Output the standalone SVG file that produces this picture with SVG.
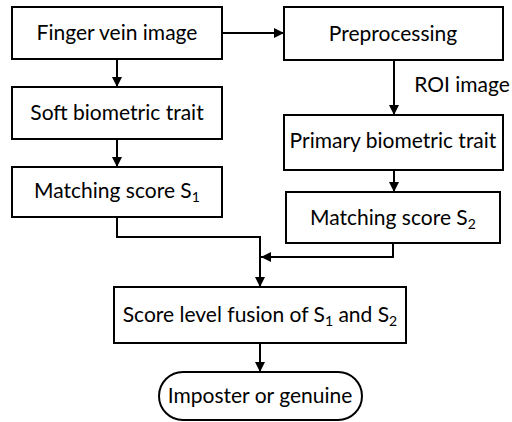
<svg xmlns="http://www.w3.org/2000/svg" width="512" height="422" viewBox="0 0 512 422">
<defs>
<style>
.box{fill:#fff;stroke:#000;stroke-width:2}
.t{font-family:Lato,"Liberation Sans",sans-serif;font-size:21px;fill:#000;text-anchor:middle}
.sub{font-size:14px}
.ln{fill:none;stroke:#000;stroke-width:2}
</style>
<marker id="ah2" viewBox="0 0 10 10" refX="10" refY="5" markerWidth="10" markerHeight="10" orient="auto" markerUnits="userSpaceOnUse">
<path d="M0,0 L10,5 L0,10 z" fill="#000"/>
</marker>
</defs>
<g id="connectors">
<path class="ln" d="M117,59 V87" marker-end="url(#ah2)"/>
<path class="ln" d="M117,139 V167" marker-end="url(#ah2)"/>
<path class="ln" d="M222,33 H284" marker-end="url(#ah2)"/>
<path class="ln" d="M394,60 V115" marker-end="url(#ah2)"/>
<path class="ln" d="M394,170 V192" marker-end="url(#ah2)"/>
<path class="ln" d="M117,217 V237 H260 V287" marker-end="url(#ah2)"/>
<path class="ln" d="M393,243 V257 H261" marker-end="url(#ah2)"/>
<path class="ln" d="M260,343 V372" marker-end="url(#ah2)"/>
</g>
<g id="n1"><rect class="box" x="12" y="7" width="210" height="52"/><text class="t" x="117" y="40">Finger vein image</text></g>
<g id="n2"><rect class="box" x="12" y="87" width="210" height="52"/><text class="t" x="117" y="120">Soft biometric trait</text></g>
<g id="n3"><rect class="box" x="12" y="167" width="210" height="50"/><text class="t" x="117" y="198">Matching score S<tspan class="sub" dy="4">1</tspan></text></g>
<g id="n4"><rect class="box" x="284" y="7" width="219" height="53"/><text class="t" x="393" y="41">Preprocessing</text></g>
<text id="roi" class="t" x="462" y="92">ROI image</text>
<g id="n5"><rect class="box" x="284" y="115" width="219" height="55"/><text class="t" x="393" y="148">Primary biometric trait</text></g>
<g id="n6"><rect class="box" x="286" y="192" width="214" height="51"/><text class="t" x="393" y="225">Matching score S<tspan class="sub" dy="4">2</tspan></text></g>
<g id="n7"><rect class="box" x="114" y="287" width="292" height="56"/><text class="t" x="260" y="322">Score level fusion of S<tspan class="sub" dy="4">1</tspan><tspan dy="-4"> and S</tspan><tspan class="sub" dy="4">2</tspan></text></g>
<g id="n8"><rect class="box" x="159" y="372" width="203" height="48" rx="24" ry="24"/><text class="t" x="260" y="403">Imposter or genuine</text></g>
</svg>
